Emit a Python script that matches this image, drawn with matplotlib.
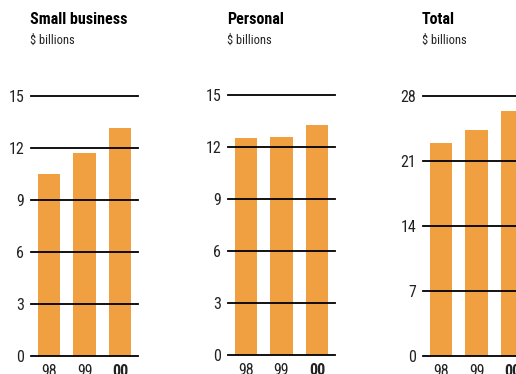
import matplotlib
matplotlib.use("Agg")
import matplotlib.pyplot as plt
from matplotlib import font_manager

names = {f.name for f in font_manager.fontManager.ttflist}
prefs = ["Roboto Condensed", "Archivo Narrow", "PT Sans Narrow", "Liberation Sans Narrow",
         "Pragati Narrow", "Encode Sans Condensed", "Barlow Semi Condensed", "Liberation Sans"]
fam = next((p for p in prefs if p in names), "DejaVu Sans")
plt.rcParams['font.family'] = [fam, 'DejaVu Sans']

years = ["98", "99", "00"]
small_business = [10.5, 11.7, 13.15]
personal = [12.5, 12.6, 13.25]
total = [22.9, 24.3, 26.4]
titles = ["Small business", "Personal", "Total"]
subtitle = "$ billions"
ticks_sb = [0, 3, 6, 9, 12, 15]
ticks_p = [0, 3, 6, 9, 12, 15]
ticks_t = [0, 7, 14, 21, 28]

W, H = 516, 374
fig = plt.figure(figsize=(W/100, H/100), dpi=100)
color = "#F0A040"

panels = [
    (small_business, ticks_sb, 31, 96, 356, titles[0]),
    (personal, ticks_p, 228, 95, 355, titles[1]),
    (total, ticks_t, 423, 96, 356, titles[2]),
]
for vals, ticks, x0, ytop, ybot, title in panels:
    w = 107
    ax = fig.add_axes([x0/W, 1 - ybot/H, w/W, (ybot-ytop)/H])
    ax.bar(range(len(years)), vals, width=0.62, color=color, zorder=1)
    ax.set_xlim(-0.5, 2.5)
    ax.set_ylim(0, ticks[-1])
    for t in ticks:
        ax.axhline(t, color="black", lw=1.3, zorder=3, clip_on=False)
    ax.set_yticks(ticks)
    ax.set_yticklabels([str(t) for t in ticks])
    ax.set_xticks(range(len(years)))
    ax.set_xticklabels(years)
    for lab in ax.get_xticklabels():
        if lab.get_text() == "00":
            lab.set_fontweight("bold")
    ax.tick_params(axis='both', length=0, labelsize=11.5, colors="#222222")
    ax.tick_params(axis='y', pad=5)
    ax.tick_params(axis='x', pad=5.5)
    for s in ax.spines.values():
        s.set_visible(False)
    fig.text((x0 - 1)/W, 1 - 20/H, title, fontsize=11.5, fontweight="bold", va="center", ha="left")
    fig.text((x0 - 1)/W, 1 - 40/H, subtitle, fontsize=9, va="center", ha="left", color="#222222")

fig.savefig("out.png", dpi=100)
